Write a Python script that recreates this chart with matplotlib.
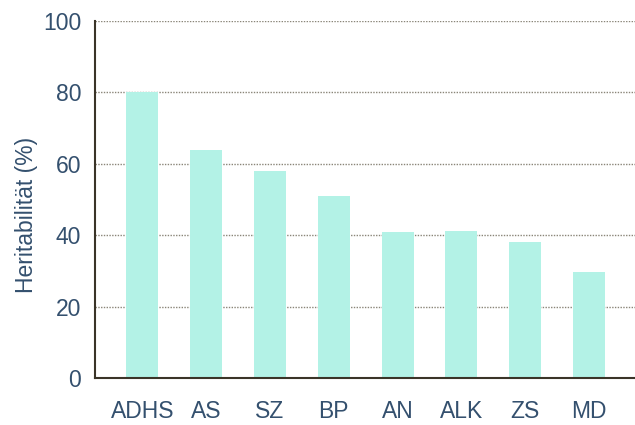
import matplotlib
matplotlib.use("Agg")
import matplotlib.pyplot as plt
import numpy as np

# Heritabilität psychischer Störungen
categories = ["ADHS", "AS", "SZ", "BP", "AN", "ALK", "ZS", "MD"]
values = [80, 64, 58, 51, 41, 41.2, 38, 29.7]
yticks = [0, 20, 40, 60, 80, 100]

text_color = "#34506e"
bar_color = "#b3f2e6"

plt.rcParams["font.family"] = ["Liberation Sans", "DejaVu Sans"]

fig = plt.figure(figsize=(6.35, 4.25), dpi=100)
ax = fig.add_axes([95 / 635, 1 - 378 / 425, 540 / 635, 357 / 425])

x = np.arange(len(categories))
ax.bar(x, values, width=0.5, color=bar_color, zorder=2)

ax.set_xlim(-0.74, 7.72)
ax.set_ylim(0, 100)
ax.set_yticks(yticks)
ax.set_xticks(x)
ax.set_xticklabels(categories)

ax.yaxis.grid(True, linestyle=(0, (1, 1)), color="#8a8578", linewidth=1, zorder=1)
ax.tick_params(axis="both", length=0, labelsize=16.5, colors=text_color)
ax.tick_params(axis="x", pad=16)
ax.tick_params(axis="y", pad=10)

for s in ["top", "right"]:
    ax.spines[s].set_visible(False)
for s in ["left", "bottom"]:
    ax.spines[s].set_color("#3a3428")
    ax.spines[s].set_linewidth(1.5)

ax.set_ylabel("Heritabilität (%)", fontsize=16.5, color=text_color)
ax.yaxis.set_label_coords(-0.105, 0.457)

fig.savefig("out.png", dpi=100)
